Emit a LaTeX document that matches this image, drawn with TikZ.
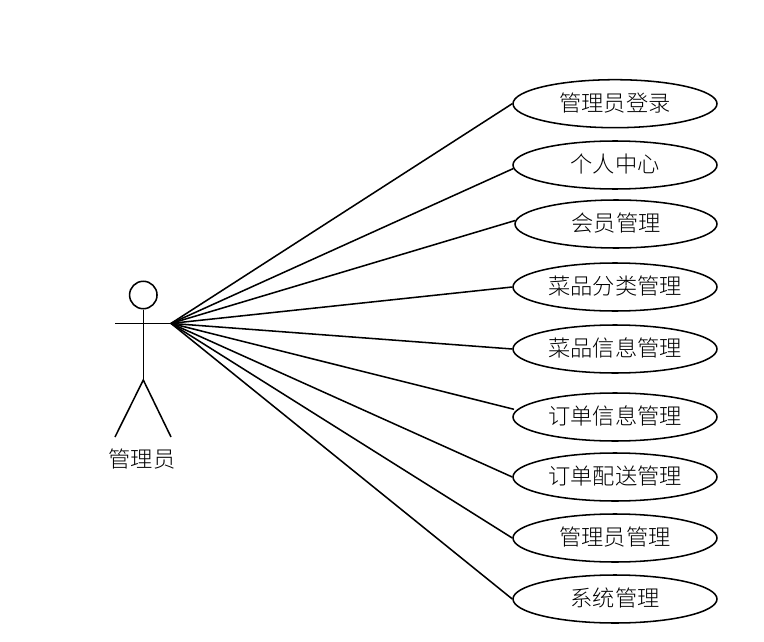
\documentclass[tikz,border=0pt]{standalone}
\usepackage{fontspec}
\newfontfamily\cjk[UprightFont={* Light}]{Noto Sans CJK SC}
\usetikzlibrary{shapes.geometric}

\begin{document}
\begin{tikzpicture}[x=0.75pt,y=-0.75pt,line width=1.15pt,
   every node/.style={font=\cjk\fontsize{16.7}{20}\selectfont},
   usecase/.style={draw,ellipse,minimum width=153pt,minimum height=36pt,inner sep=0pt,
     text height=14pt,text depth=2.9pt}]
  \useasboundingbox (0,0) rectangle (764,642);
  % actor
  \node (head) [draw,circle,minimum size=20.6pt,inner sep=0pt] at (143.3,295) {};
  \coordinate (hip) at (143.3,380);
  \coordinate (armL) at (115,323.4);
  \coordinate (armR) at (171,323.4);
  \coordinate (footL) at (115,437);
  \coordinate (footR) at (171,437);
  \draw (head) -- (hip);
  \draw (armL) -- (armR);
  \draw (footL) -- (hip) -- (footR);
  \node (actor) at (142,459) {管理员};
  % use cases
  \node (login) [usecase] at (615,103.7) {管理员登录};
  \node (center) [usecase] at (615,165) {个人中心};
  \node (member) [usecase,minimum width=151.5pt] at (616,224) {会员管理};
  \node (category) [usecase] at (615,287) {菜品分类管理};
  \node (dish) [usecase] at (615,349) {菜品信息管理};
  \node (order) [usecase] at (615,417) {订单信息管理};
  \node (delivery) [usecase] at (615,477) {订单配送管理};
  \node (admin) [usecase] at (615,538) {管理员管理};
  \node (system) [usecase] at (615,599) {系统管理};
  \coordinate (orderEnd) at (514,409.3);
  \foreach \target in {login.west,center.182.5,member.178.7,category.west,dish.west,
      orderEnd,delivery.west,admin.west,system.west}
    \draw (armR) -- (\target);
\end{tikzpicture}
\end{document}
